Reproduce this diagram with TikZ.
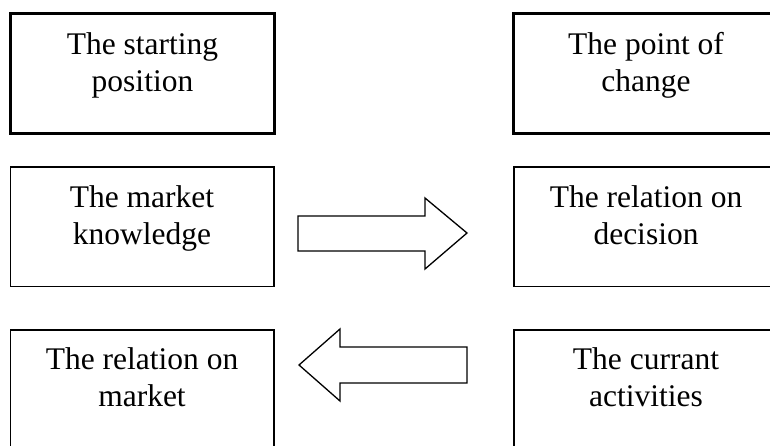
\documentclass[tikz,border=0pt]{standalone}
\usepackage{fontspec}
\setmainfont{Liberation Serif}
\begin{document}
\begin{tikzpicture}[x=1pt,y=-1pt,
  stage/.style={draw=black, line width=3.3pt, fill=white},
  item/.style={draw=black, line width=1.5pt, fill=white},
  caption/.style={anchor=north, align=center, inner sep=0pt,
    font=\fontsize{31.5}{37}\selectfont},
  blockarrow/.style={draw=black, line width=1.3pt, fill=white, line join=miter}]
\useasboundingbox (0,0) rectangle (770,446);

% column headings
\draw[stage] (10.5,13.5) rectangle (274.5,133.5);
\coordinate (start) at (142.5,13.5);
\draw[stage] (513.5,13.5) rectangle (779,133.5);
\coordinate (change) at (646,13.5);

% middle row
\draw[item] (10.3,167) rectangle (274,286.3);
\coordinate (knowledge) at (142,167);
\draw[item] (514,167) rectangle (779,286.3);
\coordinate (decision) at (646,167);

% bottom row
\draw[item] (10.3,330) rectangle (274,470);
\coordinate (market) at (142,330);
\draw[item] (514,330) rectangle (779,470);
\coordinate (activities) at (646,330);

\node[caption] (t1) at ([yshift=-19pt]start) {The starting\\position};
\node[caption] (t2) at ([yshift=-19pt]change) {The point of\\change};
\node[caption] (t3) at ([yshift=-18pt]knowledge) {The market\\knowledge};
\node[caption] (t4) at ([yshift=-18pt]decision) {The relation on\\decision};
\node[caption] (t5) at ([yshift=-17pt]market) {The relation on\\market};
\node[caption] (t6) at ([yshift=-17pt]activities) {The currant\\activities};

% block arrows between the columns
\draw[blockarrow] (298,216) -- (425,216) -- (425,198) -- (467,233)
  -- (425,269) -- (425,251) -- (298,251) -- cycle;
\draw[blockarrow] (467,347) -- (340,347) -- (340,329) -- (299,365)
  -- (340,401) -- (340,383) -- (467,383) -- cycle;
\end{tikzpicture}
\end{document}
